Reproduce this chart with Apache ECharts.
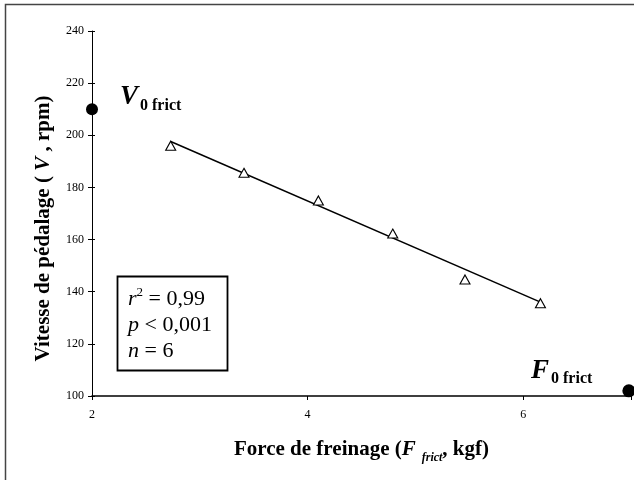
<!DOCTYPE html>
<html><head><meta charset="utf-8">
<script src="https://cdn.jsdelivr.net/npm/echarts@6/dist/echarts.min.js"></script>
<style>html,body{margin:0;padding:0;background:#fff}#c{width:634px;height:480px}</style>
</head><body><div id="c"></div>
<script>
// Data
var forceX = [2.73, 3.41, 4.10, 4.79, 5.46, 6.16];
var speedY = [196.0, 185.6, 175.0, 162.3, 144.7, 135.6];
var fitX = [2.73, 6.16];
var fitY = [197.6, 136.0];
var v0Point = [2, 210];
var f0Point = [6.98, 102];
var xTicks = [2, 4, 6];
var yTicks = [100, 120, 140, 160, 180, 200, 220, 240];

var serif = '"Liberation Serif", "Times New Roman", serif';
var chart = echarts.init(document.getElementById('c'), null, {renderer: 'canvas'});

function pairs(xs, ys) { return xs.map(function (x, i) { return [x, ys[i]]; }); }

var labelRich = {
  v: {fontFamily: serif, fontWeight: 'bold', fontStyle: 'italic', fontSize: 27, color: '#000', verticalAlign: 'bottom'},
  s: {fontFamily: serif, fontWeight: 'bold', fontSize: 16, color: '#000', verticalAlign: 'bottom', padding: [0, 0, -3, 2]}
};

var option = {
  backgroundColor: '#fff',
  animation: false,
  textStyle: {fontFamily: serif, color: '#000'},
  grid: {left: 92, right: 1, top: 31, bottom: 84, containLabel: false},
  xAxis: [{
    type: 'value', min: 2, max: 7, interval: 2,
    axisLine: {show: true, onZero: false, lineStyle: {color: '#000', width: 1.6}},
    axisTick: {show: true, length: 4, lineStyle: {color: '#000'}},
    axisLabel: {fontFamily: serif, fontSize: 12, color: '#000', margin: 13,
      formatter: function (v) { return xTicks.indexOf(v) >= 0 ? String(v) : ''; }},
    splitLine: {show: false},
    name: '{b|Force de freinage (}{bi|F}{sub|  frict}{b|, kgf)}',
    nameLocation: 'middle', nameGap: 43,
    nameTextStyle: {rich: {
      b: {fontFamily: serif, fontWeight: 'bold', fontSize: 21, color: '#000', verticalAlign: 'bottom'},
      bi: {fontFamily: serif, fontWeight: 'bold', fontStyle: 'italic', fontSize: 21, color: '#000', verticalAlign: 'bottom'},
      sub: {fontFamily: serif, fontWeight: 'bold', fontStyle: 'italic', fontSize: 12, color: '#000', verticalAlign: 'bottom', padding: [0, 0, -4, 0]}
    }}
  }],
  yAxis: [{
    type: 'value', min: 100, max: 240, interval: 20,
    axisLine: {show: true, onZero: false, lineStyle: {color: '#000', width: 1}},
    axisTick: {show: true, length: 4, lineStyle: {color: '#000'}},
    axisLabel: {fontFamily: serif, fontSize: 12, color: '#000', margin: 8,
      formatter: function (v) { return yTicks.indexOf(v) >= 0 ? String(v) : ''; }},
    splitLine: {show: false},
    name: '{b|Vitesse de pédalage ( }{bi|V}{b| , rpm)}',
    nameLocation: 'middle', nameGap: 38,
    nameTextStyle: {padding: [0, 30, 0, 0], rich: {
      b: {fontFamily: serif, fontWeight: 'bold', fontSize: 21, color: '#000'},
      bi: {fontFamily: serif, fontWeight: 'bold', fontStyle: 'italic', fontSize: 21, color: '#000'}
    }}
  }, {
    type: 'value', min: 100, max: 240, interval: 20, position: 'left',
    axisLine: {show: false}, axisLabel: {show: false}, splitLine: {show: false},
    axisTick: {show: true, inside: true, length: 3, lineStyle: {color: '#000'}}
  }],
  series: [{
    type: 'line', data: pairs(fitX, fitY), showSymbol: false, symbol: 'none',
    lineStyle: {color: '#000', width: 1.5}, z: 2
  }, {
    type: 'scatter', data: pairs(forceX, speedY), symbol: 'triangle', symbolSize: [10, 9],
    itemStyle: {color: '#fff', borderColor: '#000', borderWidth: 1.1, opacity: 1}, z: 3
  }, {
    type: 'scatter', data: [v0Point], symbol: 'circle', symbolSize: 12, clip: false,
    itemStyle: {color: '#000', opacity: 1},
    label: {show: true, color: '#000', opacity: 1, position: 'right', distance: 22, offset: [0, -12],
      formatter: '{v|V}{s|0 frict}', rich: labelRich}
  }, {
    type: 'scatter', data: [f0Point], symbol: 'circle', symbolSize: 13, clip: false,
    itemStyle: {color: '#000', opacity: 1},
    label: {show: true, color: '#000', opacity: 1, position: 'left', distance: 30, offset: [0, -20],
      formatter: '{v|F}{s|0 frict}', rich: labelRich}
  }],
  graphic: [
    {type: 'rect', shape: {x: 5.5, y: 4.5, width: 700, height: 600},
     style: {fill: 'none', stroke: '#444', lineWidth: 1.5}, silent: true},
    {type: 'rect', shape: {x: 117.5, y: 276.5, width: 110, height: 94},
     style: {fill: '#fff', stroke: '#000', lineWidth: 1.8}, z: 10},
    {type: 'text', left: 128, top: 286, z: 11,
     style: {text: '{i|r}{sup|2}{n| = 0,99}\n{i|p}{n| < 0,001}\n{i|n}{n| = 6}',
       lineHeight: 26,
       rich: {
         i: {fontFamily: serif, fontStyle: 'italic', fontSize: 22, fill: '#000', lineHeight: 26},
         n: {fontFamily: serif, fontSize: 22, fill: '#000', lineHeight: 26},
         sup: {fontFamily: serif, fontSize: 13, fill: '#000', verticalAlign: 'top', lineHeight: 26}
       }}}
  ]
};
chart.setOption(option);
</script>
</body></html>
